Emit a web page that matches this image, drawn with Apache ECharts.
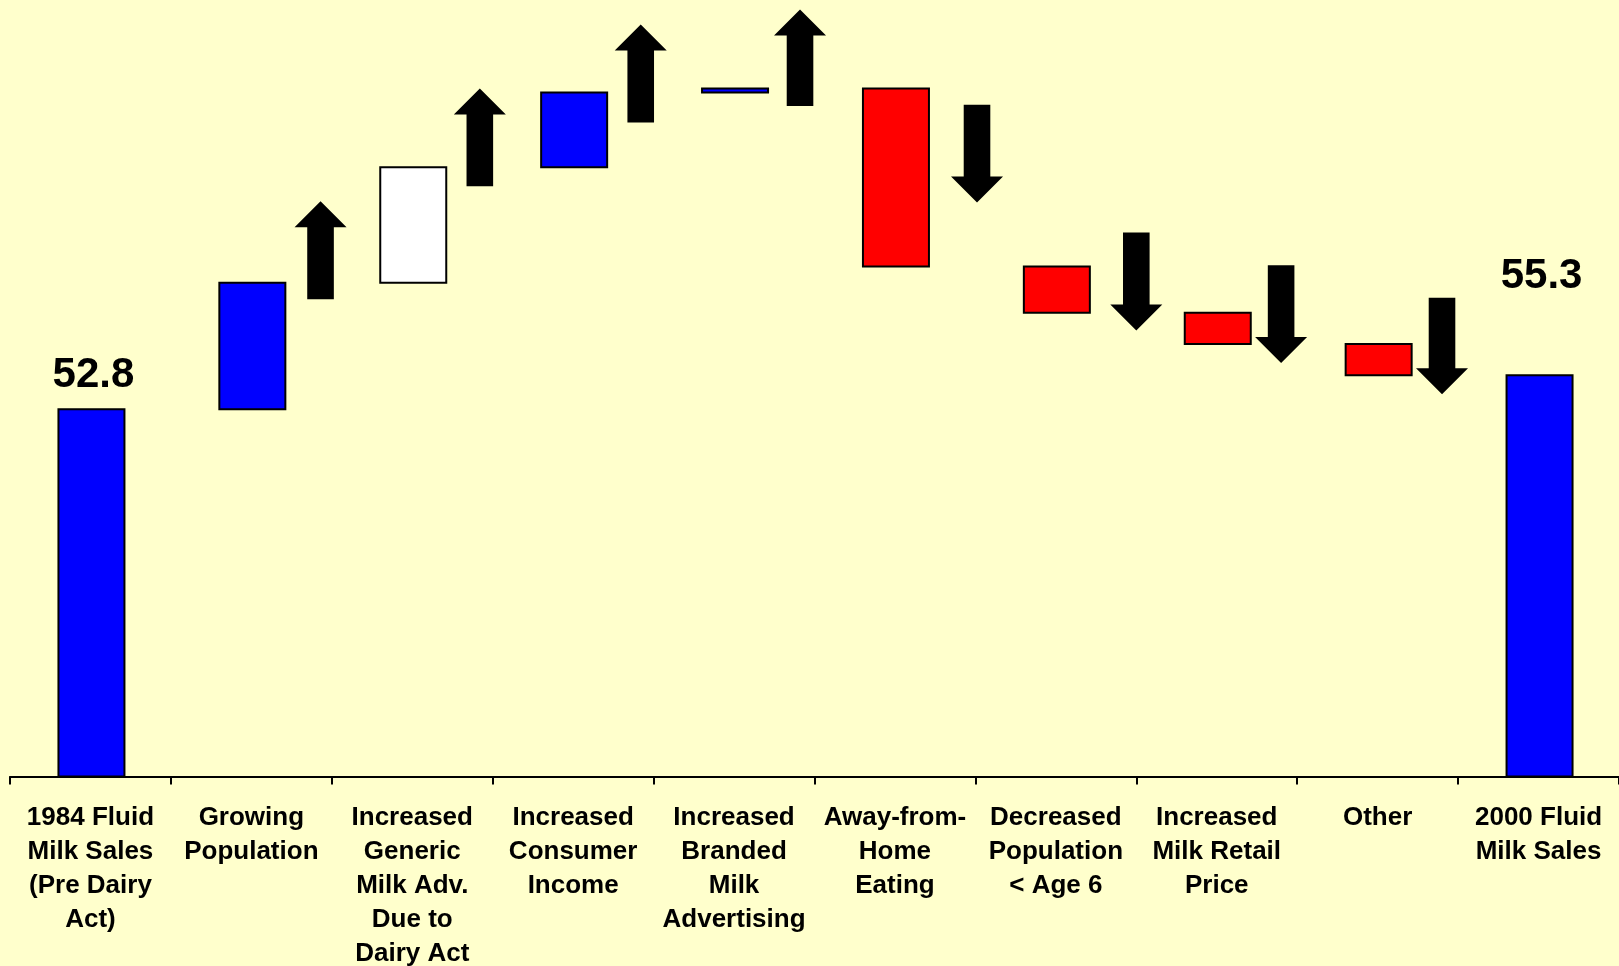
<!DOCTYPE html>
<html>
<head>
<meta charset="utf-8">
<script src="https://cdn.jsdelivr.net/npm/echarts@6/dist/echarts.min.js"></script>
<style>
  html, body { margin: 0; padding: 0; background: #FFFFCC; overflow: hidden; width: 1619px; height: 966px; }
  #chart { position: absolute; left: 0; top: 0; width: 1619px; height: 966px; }
</style>
</head>
<body>
<div id="chart"></div>
<script>
// ---------- data ----------
const categories = [
  "1984 Fluid\nMilk Sales\n(Pre Dairy\nAct)",
  "Growing\nPopulation",
  "Increased\nGeneric\nMilk Adv.\nDue to\nDairy Act",
  "Increased\nConsumer\nIncome",
  "Increased\nBranded\nMilk\nAdvertising",
  "Away-from-\nHome\nEating",
  "Decreased\nPopulation\n< Age 6",
  "Increased\nMilk Retail\nPrice",
  "Other",
  "2000 Fluid\nMilk Sales"
];
const startTotal = 52.8;
const endTotal = 55.3;
const changes = [9.3, 8.5, 5.5, 0.3, -13.1, -3.4, -2.3, -2.3];
const totalLabels = ["52.8", "55.3"];
// arrow annotations (value at tail, value at tip) for each change
const arrowTail = [60.9, 69.2, 73.9, 75.1, 75.2, 65.8, 63.4, 61.0];
const arrowTip  = [68.1, 76.4, 81.1, 82.2, 68.0, 58.6, 56.2, 53.9];

// ---------- layout / style ----------
const yMin = 25.8, yMax = 82.9;
const arrowShift = [0.43, 0.42, 0.42, 0.41, 0.51, 0.50, 0.40, 0.40];
const barColor = function (i, delta) {
  if (i === 2) return '#FFFFFF';
  if (delta === null) return '#0000FF';
  return delta >= 0 ? '#0000FF' : '#FF0000';
};

// build waterfall items
const barItems = [];
barItems.push([0, yMin, startTotal, null]);
let run = startTotal;
changes.forEach(function (d, k) {
  const lo = Math.min(run, run + d), hi = Math.max(run, run + d);
  barItems.push([k + 1, lo, hi, d]);
  run += d;
});
barItems.push([categories.length - 1, yMin, endTotal, null]);

const arrowItems = changes.map(function (d, k) {
  return [k + 1, arrowTail[k], arrowTip[k], arrowShift[k]];
});

const chart = echarts.init(document.getElementById('chart'));
chart.setOption({
  backgroundColor: '#FFFFCC',
  animation: false,
  grid: { left: 10, right: 0, top: 0, bottom: 189.5, containLabel: false, outerBoundsMode: 'none' },
  xAxis: {
    type: 'category',
    data: categories,
    boundaryGap: true,
    axisLine: { show: true, lineStyle: { color: '#000', width: 2 } },
    axisTick: { show: true, interval: 0, length: 8, lineStyle: { color: '#000', width: 2 } },
    axisLabel: {
      interval: 0,
      margin: 24,
      color: '#000',
      fontFamily: 'Liberation Sans, Arial, sans-serif',
      fontWeight: 'bold',
      fontSize: 26,
      lineHeight: 34
    },
    splitLine: { show: false }
  },
  yAxis: { type: 'value', min: yMin, max: yMax, show: false, splitLine: { show: false } },
  series: [
    {
      type: 'custom',
      clip: false,
      data: barItems,
      renderItem: function (params, api) {
        const idx = api.value(0);
        const p0 = api.coord([idx, api.value(1)]);
        const p1 = api.coord([idx, api.value(2)]);
        const w = 66;
        const cx = p0[0] + 1;
        const top = Math.min(p0[1], p1[1]);
        const h = Math.abs(p0[1] - p1[1]);
        const d = barItems[params.dataIndex][3];
        const children = [{
          type: 'rect',
          shape: { x: cx - w / 2, y: top, width: w, height: h },
          style: { fill: barColor(idx, d), stroke: '#000', lineWidth: 2 }
        }];
        if (d === null) {
          const first = params.dataIndex === 0;
          children.push({
            type: 'text',
            style: {
              text: first ? totalLabels[0] : totalLabels[1],
              x: cx + 2,
              y: top - (first ? 34 : 99),
              textAlign: 'center',
              textVerticalAlign: 'middle',
              fontFamily: 'Liberation Sans, Arial, sans-serif',
              fontWeight: 'bold',
              fontSize: 42,
              fill: '#000'
            }
          });
        }
        return { type: 'group', children: children };
      }
    },
    {
      type: 'custom',
      clip: false,
      data: arrowItems,
      renderItem: function (params, api) {
        const idx = api.value(0);
        const tail = api.coord([idx, api.value(1)]);
        const tip = api.coord([idx, api.value(2)]);
        const cw = api.size([1, 0])[0];
        const cx = tail[0] + api.value(3) * cw;
        const dir = tip[1] > tail[1] ? 1 : -1;
        const headH = 26, headW = 26, shaft = 13.3;
        const hb = tip[1] - dir * headH;
        return {
          type: 'polygon',
          shape: {
            points: [
              [cx, tip[1]],
              [cx + headW, hb],
              [cx + shaft, hb],
              [cx + shaft, tail[1]],
              [cx - shaft, tail[1]],
              [cx - shaft, hb],
              [cx - headW, hb]
            ]
          },
          style: { fill: '#000' }
        };
      }
    }
  ]
});
</script>
</body>
</html>
